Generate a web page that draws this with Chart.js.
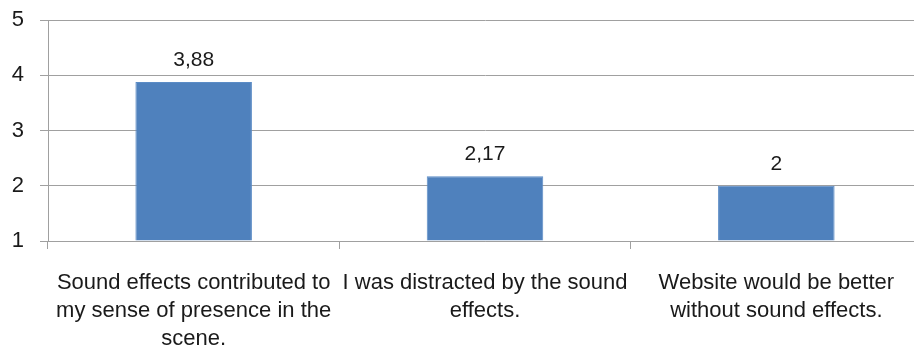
<!DOCTYPE html>
<html>
<head>
<meta charset="utf-8">
<script src="https://cdn.jsdelivr.net/npm/chart.js@4/dist/chart.umd.min.js"></script>
<style>
  html, body { margin: 0; padding: 0; background: #fff; overflow: hidden; }
  #wrap { width: 922px; height: 350px; }
</style>
</head>
<body>
<div id="wrap"><canvas id="c" width="922" height="350"></canvas></div>
<script>
// Survey statements (split into display lines)
const categories = [
  ["Sound effects contributed to", "my sense of presence in the", "scene."],
  ["I was distracted by the sound", "effects."],
  ["Website would be better", "without sound effects."]
];
// Mean agreement scores
const meanScores = [3.88, 2.17, 2];
// Rating scale ticks
const yTicks = [1, 2, 3, 4, 5];

const FONT = "'Liberation Sans', Arial, sans-serif";
const GRID = '#a0a0a0';
const TEXT = '#1a1a1a';

// Writes each bar's value above it with a decimal comma
const valueLabels = {
  id: 'valueLabels',
  afterDatasetsDraw(chart) {
    const ctx = chart.ctx;
    const meta = chart.getDatasetMeta(0);
    ctx.save();
    ctx.font = '21px ' + FONT;
    ctx.fillStyle = TEXT;
    ctx.textAlign = 'center';
    ctx.textBaseline = 'alphabetic';
    meta.data.forEach((bar, i) => {
      const txt = String(meanScores[i]).replace('.', ',');
      ctx.fillText(txt, bar.x, bar.y - 16);
    });
    ctx.restore();
  }
};

new Chart(document.getElementById('c'), {
  type: 'bar',
  data: {
    labels: categories,
    datasets: [{
      data: meanScores,
      backgroundColor: '#4f81bd',
      borderColor: '#5b8cc6',
      borderWidth: 1,
      barPercentage: 0.4,
      categoryPercentage: 1.0,
      base: 1
    }]
  },
  options: {
    responsive: false,
    animation: false,
    devicePixelRatio: 1,
    layout: { padding: { top: 20, right: 0, left: 0, bottom: 0 } },
    plugins: { legend: { display: false }, tooltip: { enabled: false } },
    scales: {
      x: {
        offset: true,
        grid: {
          display: true,
          drawOnChartArea: false,
          offset: true,
          tickLength: 8,
          color: GRID,
          lineWidth: 1
        },
        border: { color: GRID, width: 1 },
        ticks: {
          color: TEXT,
          font: { family: FONT, size: 22, lineHeight: 1.27 },
          padding: 20,
          maxRotation: 0,
          autoSkip: false
        },
        afterFit(scale) {
          scale.height = 109;
          scale.paddingLeft = 0;
          scale.paddingRight = 0;
        }
      },
      y: {
        min: 1,
        max: 5,
        afterBuildTicks(scale) { scale.ticks = yTicks.map(v => ({ value: v })); },
        grid: { color: GRID, lineWidth: 1, tickLength: 8 },
        border: { color: GRID, width: 1 },
        ticks: {
          color: TEXT,
          font: { family: FONT, size: 22 },
          padding: 16
        },
        afterFit(scale) {
          scale.width = 48;
          scale.paddingTop = 0;
          scale.paddingBottom = 0;
        }
      }
    }
  },
  plugins: [valueLabels]
});
</script>
</body>
</html>
